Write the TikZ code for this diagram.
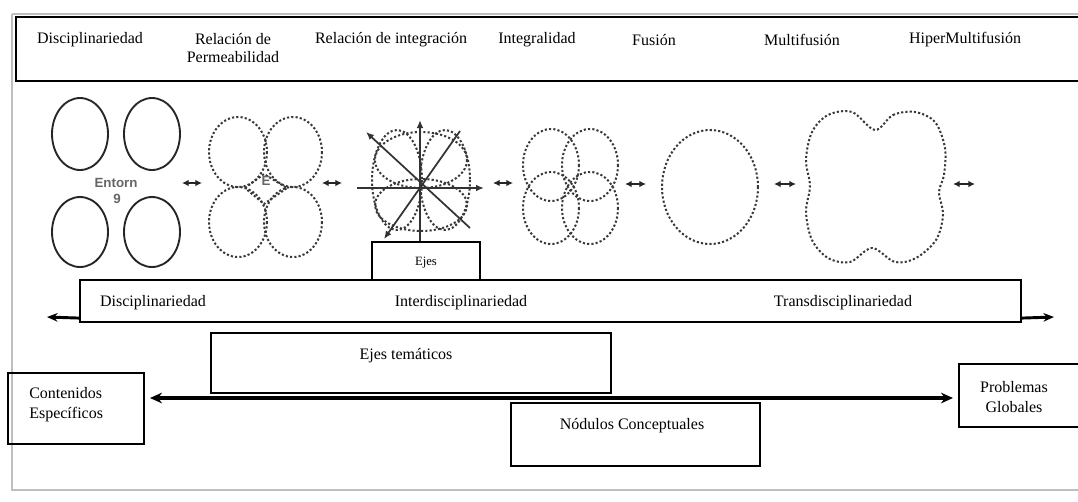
\documentclass[tikz,border=0pt]{standalone}
\usepackage{fontspec}
\setmainfont{Liberation Serif}
\newfontfamily\lblsans{Liberation Sans}
\usetikzlibrary{arrows.meta}
\begin{document}
\begin{tikzpicture}[x=0.75pt,y=-0.75pt,
  box/.style={draw=black, line width=1.6pt, inner sep=0pt},
  lbl/.style={font=\fontsize{12}{14}\selectfont, inner sep=0pt},
  smalllbl/.style={font=\fontsize{9.5}{11}\selectfont, inner sep=0pt},
  figlbl/.style={font=\lblsans\bfseries\fontsize{10}{11}\selectfont, text=black!60, inner sep=0pt},
  solidring/.style={draw=black!85, line width=1.4pt},
  dotring/.style={draw=black!78, line width=1.5pt, dash pattern=on 1.6pt off 1.6pt},
  axisline/.style={draw=black!80, line width=1.3pt},
  axtip/.style={-{Latex[length=6pt,width=5pt]}},
  minilink/.style={draw=black!85, line width=1.2pt, {Latex[length=5pt,width=5pt]}-{Latex[length=5pt,width=5pt]}},
  bandarrow/.style={line width=2.2pt, -{Stealth[length=8pt,width=6.5pt]}},
  longarrow/.style={line width=3.6pt, {Stealth[length=9pt,width=8pt]}-{Stealth[length=9pt,width=8pt]}},
  frameline/.style={draw=black!25, line width=1.5pt}
]
\clip (0,0) rectangle (1078,501);
\fill[white] (0,0) rectangle (1078,501);

% faint page frame
\draw[frameline] (11.5,14) -- (11.5,490) -- (1078,490);
\draw[frameline] (11.5,14) -- (1078,14);

% ---- top header box ----
\node[box, minimum width=805.5pt, minimum height=48pt] (topbox) at (553,49) {};
\node[lbl] (t1) at (90,40) {Disciplinariedad};
\node[lbl, align=center, font=\fontsize{12}{13.2}\selectfont] (t2) at (233,48) {Relación de\\Permeabilidad};
\node[lbl] (t3) at (391,40) {Relación de integración};
\node[lbl] (t4) at (537,40) {Integralidad};
\node[lbl] (t5) at (654,40) {Fusión};
\node[lbl] (t6) at (802,40) {Multifusión};
\node[lbl] (t7) at (965,40) {HiperMultifusión};

% ---- figure 1: disciplinariedad (solid ellipses) ----
\draw[solidring] (80,134) ellipse [x radius=28, y radius=36];
\draw[solidring] (152,134) ellipse [x radius=28, y radius=36];
\draw[solidring] (80,232) ellipse [x radius=28, y radius=35];
\draw[solidring] (152,232) ellipse [x radius=28, y radius=35];
\node[figlbl] (entorn) at (116,183) {Entorn};
\node[figlbl] (nine) at (117,199) {9};

% ---- figure 2: permeabilidad ----
\draw[dotring] (238,152) ellipse [x radius=29, y radius=35];
\draw[dotring] (293,152) ellipse [x radius=29, y radius=35];
\draw[dotring] (238,222) ellipse [x radius=29, y radius=35];
\draw[dotring] (293,222) ellipse [x radius=29, y radius=35];
\draw[dotring] (245,188) -- (264,174) -- (287,188) -- (264,204) -- cycle;
\node[figlbl] (eperm) at (266,181) {E};

% ---- figure 3: integracion ----
\draw[dotring] (397,180) ellipse [x radius=25, y radius=50];
\draw[dotring] (445,180) ellipse [x radius=25, y radius=50];
\draw[dotring] (421,160) ellipse [x radius=46, y radius=28];
\draw[dotring] (421,205) ellipse [x radius=46, y radius=26];
\coordinate (c) at (420,188);
\node[box, minimum width=81pt, minimum height=28.5pt] (ejes) at (426,261) {};
\node[smalllbl] (ejestxt) at (426,263) {Ejes};
\coordinate (an) at (420,120);
\coordinate (ae) at (484,188);
\coordinate (aw) at (357,188);
\coordinate (anw) at (366,132);
\coordinate (ase) at (470,228);
\coordinate (ane) at (460,131);
\coordinate (asw) at (384,239);
\draw[axisline, axtip] (c) -- (an);
\draw[axisline] (c) -- (c |- ejes.north);
\draw[axisline, axtip] (aw) -- (ae);
\draw[axisline, axtip] (ase) -- (anw);
\draw[axisline, axtip] (ane) -- (asw);

% ---- figure 4: integralidad ----
\draw[dotring] (551,165) ellipse [x radius=28, y radius=36];
\draw[dotring] (590,165) ellipse [x radius=28, y radius=36];
\draw[dotring] (551,208) ellipse [x radius=28, y radius=36];
\draw[dotring] (590,208) ellipse [x radius=28, y radius=36];

% ---- figure 5: fusion ----
\draw[dotring] (710,187) ellipse [x radius=48, y radius=57];

% ---- figure 6: multifusion ----
\draw[dotring] plot[smooth cycle, tension=0.55] coordinates {
  (875,130) (893,115) (915,112) (935,122) (945,148) (944,175) (939,192)
  (943,215) (936,240) (916,258) (895,262) (872,248) (850,262) (828,258)
  (812,240) (806,212) (810,186) (806,160) (812,132) (828,115) (852,112)};

% ---- small links between figures ----
\coordinate (m1a) at (182,183); \coordinate (m1b) at (202,183);
\coordinate (m2a) at (322,183); \coordinate (m2b) at (342,183);
\coordinate (m3a) at (493,183); \coordinate (m3b) at (513,183);
\coordinate (m4a) at (625,184); \coordinate (m4b) at (646,184);
\coordinate (m5a) at (774,184); \coordinate (m5b) at (796,184);
\coordinate (m6a) at (953,184); \coordinate (m6b) at (975,184);
\draw[minilink] (m1a) -- (m1b);
\draw[minilink] (m2a) -- (m2b);
\draw[minilink] (m3a) -- (m3b);
\draw[minilink] (m4a) -- (m4b);
\draw[minilink] (m5a) -- (m5b);
\draw[minilink] (m6a) -- (m6b);

% ---- band ----
\node[box, minimum width=705.75pt, minimum height=31.5pt] (band) at (550.5,301) {};
\node[lbl] (b1) at (153,303) {Disciplinariedad};
\node[lbl] (b2) at (461,303) {Interdisciplinariedad};
\node[lbl] (b3) at (843,303) {Transdisciplinariedad};
\coordinate (bl) at (47,317);
\coordinate (br) at (1054,317);
\draw[bandarrow] ([yshift=3.75pt]band.south west) -- (bl);
\draw[bandarrow] ([yshift=3.75pt]band.south east) -- (br);

% ---- lower part ----
\node[box, minimum width=300pt, minimum height=45pt] (ejestem) at (411,363) {};
\node[lbl] (ejestemtxt) at (406,356) {Ejes temáticos};
\node[box, minimum width=102pt, minimum height=53.25pt] (cont) at (76,408.5) {};
\node[lbl, align=left, font=\fontsize{12}{15}\selectfont, anchor=west] (conttxt) at (29,405) {Contenidos\\Específicos};
\node[box, minimum width=186.75pt, minimum height=47.25pt] (nod) at (635.5,434.5) {};
\node[lbl] (nodtxt) at (632,426) {Nódulos Conceptuales};
\node[box, minimum width=98.25pt, minimum height=47.25pt] (prob) at (1024.5,395.5) {};
\node[lbl, align=center, font=\fontsize{12}{15}\selectfont] (probtxt) at (1014,397) {Problemas\\Globales};
\coordinate (la) at (150,398);
\coordinate (lb) at (953,398);
\draw[longarrow] (la) -- (lb);
\end{tikzpicture}
\end{document}
